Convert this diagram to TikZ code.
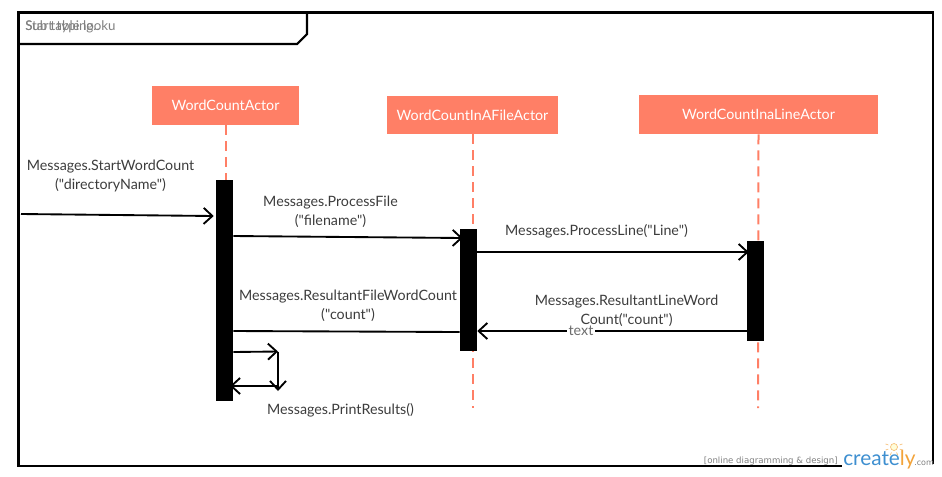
\documentclass[tikz,border=0pt]{standalone}
\usepackage{fontspec}
\setmainfont{Lato}[Ligatures=TeXOff]
\newfontfamily\wmfont{DejaVu Sans}
\usetikzlibrary{arrows.meta,calc}
\definecolor{actorfill}{HTML}{FF7F66}
\definecolor{txt}{HTML}{3C3C3C}
\definecolor{lifeline}{HTML}{FF7F66}
\definecolor{crblue}{HTML}{3E8FD0}
\definecolor{crorange}{HTML}{F2A33A}
\tikzset{
  actor/.style={fill=actorfill,text=white,inner sep=0pt,anchor=center,font=\fontsize{10.7pt}{13pt}\selectfont},
  bar/.style={fill=black,draw=none,inner sep=0pt,minimum width=12.75pt},
  lifelinestyle/.style={draw=lifeline,line width=1.5pt,dash pattern=on 7.5pt off 4.5pt},
  msg/.style={draw=black,line width=1.4pt,-{Straight Barb[length=6.5pt,width=12pt,line width=1.4pt]}},
  plainmsg/.style={draw=black,line width=1.4pt},
  lbl/.style={text=txt,align=center,inner sep=0pt,font=\fontsize{10.7pt}{14.6pt}\selectfont},
  frame/.style={draw=black,line width=1.6pt},
  tabtext/.style={anchor=base west,inner sep=0pt,text=txt!65,font=\fontsize{10pt}{12pt}\selectfont},
  wm/.style={inner sep=0pt,text=black!50,font=\wmfont\fontsize{6.45pt}{7pt}\selectfont}
}
\begin{document}
\begin{tikzpicture}[x=0.75pt,y=-0.75pt]
\useasboundingbox (0,0) rectangle (942,476);
\draw[frame] (18.5,12.5) rectangle (933,466);
\draw[frame] (18.5,44) -- (297,44) -- (307,34) -- (307,12.5);
\node[tabtext] (t1) at (25,30.5) {Start typing..};
\node[tabtext] (t2) at (25,30.5) {Sub table looku};

\node[actor,minimum width=110.25pt,minimum height=29.25pt] (A) at (225.5,105.5) {WordCountActor};
\node[actor,minimum width=128.25pt,minimum height=28.5pt] (B) at (472.5,115) {WordCountInAFileActor};
\node[actor,minimum width=179.25pt,minimum height=29.25pt] (C) at (758.5,114.5) {WordCountInaLineActor};

\coordinate (Bend) at (472.5,408);
\coordinate (Cend) at (758,408);
\draw[lifelinestyle] (A.south) -- (225.5,180);
\draw[lifelinestyle] (B.south) -- (Bend);
\draw[lifelinestyle] (C.south) -- (Cend);

\node[bar,minimum height=165.75pt] (ba) at (224.5,290.5) {};
\node[bar,minimum height=91.5pt] (bb) at (468.5,290) {};
\node[bar,minimum height=75pt] (bc) at (755.5,291) {};

\coordinate (s0) at (21,214);
\coordinate (loopa) at (278,351.5);
\coordinate (loopb) at (278,391);
\coordinate (loopc) at (278,386);
\draw[msg] (s0) -- ($(ba.west |- 0,216)+(-2,0)$);
\draw[msg] (ba.east |- 0,236) -- ($(bb.west |- 0,238)+(3,0)$);
\draw[msg] (bb.east |- 0,252) -- ($(bc.west |- 0,252)+(2,0)$);
\draw[msg] (bc.west |- 0,331) -- node[pos=0.615,fill=white,inner sep=1.5pt,text=txt!75,font=\fontsize{10.7pt}{12pt}\selectfont] (tx) {text} (bb.east |- 0,331);
\draw[plainmsg] (bb.west |- 0,332) -- (ba.east |- 0,331);
\draw[msg] (ba.east |- 0,352) -- (loopa);
\draw[msg] (loopa) -- (loopb);
\draw[msg] (loopc) -- (230,386);

\node[lbl] (m1) at (110.5,176) {Messages.StartWordCount\\("directoryName")};
\node[lbl] (m2) at (330.5,212) {Messages.ProcessFile\\("filename")};
\node[lbl] (m3) at (596.5,231) {Messages.ProcessLine("Line")};
\node[lbl] (m4) at (348,306) {Messages.ResultantFileWordCount\\("count")};
\node[lbl] (m5) at (626.5,311) {Messages.ResultantLineWord\\Count("count")};
\node[lbl] (m6) at (340.5,410.5) {Messages.PrintResults()};

\fill[white] (842,464) rectangle (935,469);
\node[wm,anchor=base east] (w1) at (838,463.5) {[online diagramming \& design]};
\node[anchor=base west,inner sep=0pt,text=crblue,font=\fontsize{15.6pt}{18pt}\selectfont] (w2) at (843,465.5) {create\textcolor{crorange}{ly}};
\node[wm,anchor=base west,font=\wmfont\fontsize{6pt}{7pt}\selectfont] (w3) at (914,465) {.com};
\draw[crorange!70,line width=0.5pt,fill=yellow!15] (894,447) circle (3.5);
\foreach \a in {20,65,115,160,200,340}
  \draw[crorange!70,line width=0.5pt] (894,447) ++({\a}:6) -- ++({\a}:3);
\end{tikzpicture}
\end{document}
